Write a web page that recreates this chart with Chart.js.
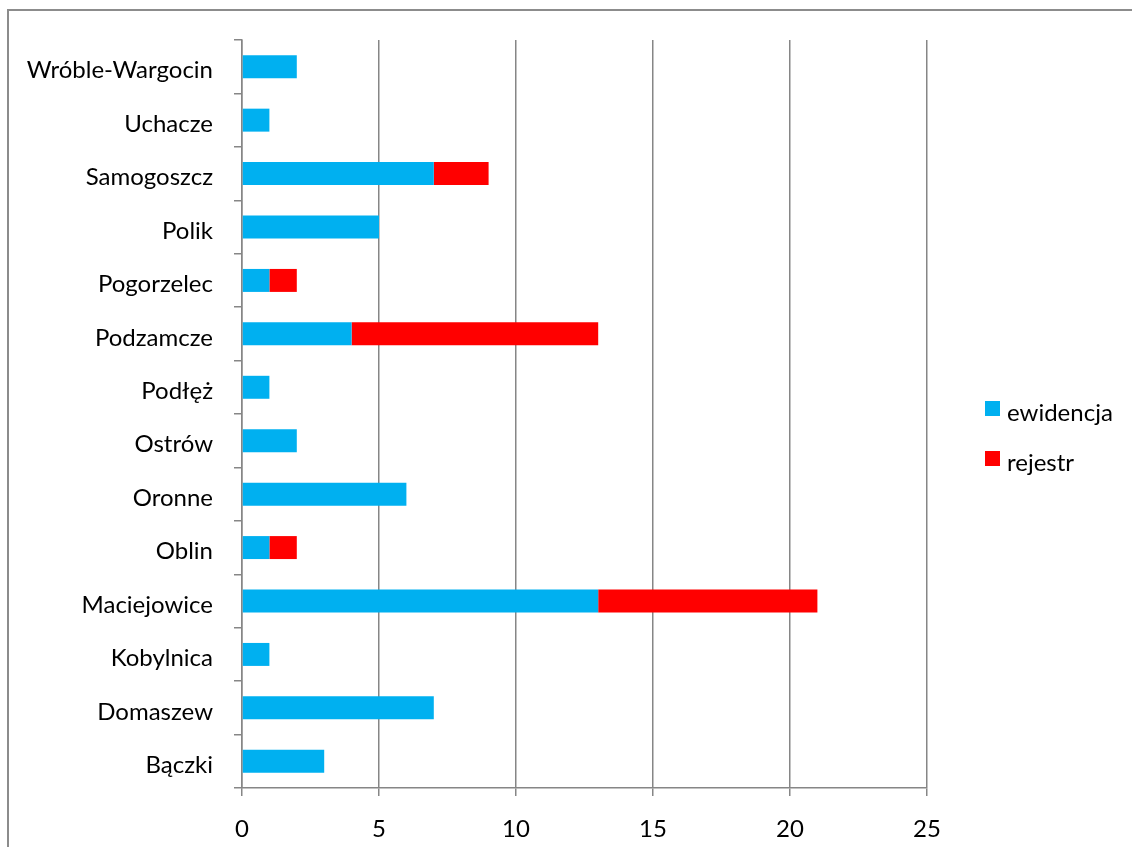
<!DOCTYPE html>
<html>
<head>
<meta charset="utf-8">
<script src="https://cdn.jsdelivr.net/npm/chart.js@4/dist/chart.umd.min.js"></script>
<style>
  html, body { margin: 0; padding: 0; background: #fff; overflow: hidden; }
  #wrap { position: relative; width: 1132px; height: 847px; }
  #frame { position: absolute; left: 7px; top: 9px; width: 1200px; height: 900px;
           border-left: 2px solid #8c8c8c; border-top: 2px solid #8c8c8c; pointer-events: none; }
  #legend { position: absolute; left: 985px; top: 396px; font-family: Lato, "Noto Sans", sans-serif;
            font-size: 24px; color: #000; }
  #legend div { display: flex; align-items: center; height: 30px; margin-bottom: 20px; }
  #legend span.box { width: 15px; height: 15px; margin-right: 7px; margin-top: -6px; }
</style>
</head>
<body>
<div id="wrap">
  <canvas id="c" width="1132" height="847"></canvas>
  <div id="frame"></div>
  <div id="legend"></div>
</div>
<script>
// categories, top to bottom as shown
const villages = ['Wróble-Wargocin', 'Uchacze', 'Samogoszcz', 'Polik', 'Pogorzelec', 'Podzamcze',
  'Podłęż', 'Ostrów', 'Oronne', 'Oblin', 'Maciejowice', 'Kobylnica', 'Domaszew', 'Bączki'];
const ewidencja = [2, 1, 7, 5, 1, 4, 1, 2, 6, 1, 13, 1, 7, 3];
const rejestr   = [0, 0, 2, 0, 1, 9, 0, 0, 0, 1, 8, 0, 0, 0];
const xTicks = [0, 5, 10, 15, 20, 25];

const SERIES_COLORS = { ewidencja: '#00b0f0', rejestr: '#ff0000' };
const GRID = '#868686';
const FONT = { family: 'Lato, "Noto Sans", sans-serif', size: 24 };

const ctx = document.getElementById('c');
new Chart(ctx, {
  type: 'bar',
  data: {
    labels: villages,
    datasets: [
      { label: 'ewidencja', data: ewidencja, backgroundColor: SERIES_COLORS.ewidencja,
        barPercentage: 0.43, categoryPercentage: 1 },
      { label: 'rejestr', data: rejestr, backgroundColor: SERIES_COLORS.rejestr,
        barPercentage: 0.43, categoryPercentage: 1 },
    ],
  },
  options: {
    indexAxis: 'y',
    responsive: false,
    animation: false,
    devicePixelRatio: 1,
    layout: { padding: { top: 40, right: 205, left: 0, bottom: 0 } },
    plugins: { legend: { display: false }, tooltip: { enabled: false } },
    scales: {
      x: {
        stacked: true,
        min: 0, max: 25,
        afterBuildTicks: s => { s.ticks = xTicks.map(v => ({ value: v })); },
        afterFit: s => { s.height = 59; },
        ticks: { color: '#000', font: FONT, padding: 19, maxRotation: 0 },
        grid: { color: GRID, lineWidth: 1.5, tickLength: 8, drawTicks: true },
        border: { display: true, color: GRID, width: 1.5 },
      },
      y: {
        stacked: true,
        afterFit: s => { s.width = 242; },
        ticks: { color: '#000', font: FONT, padding: 21, labelOffset: 4 },
        grid: { offset: true, drawOnChartArea: false, color: GRID, lineWidth: 1.5, tickLength: 8 },
        border: { display: true, color: GRID, width: 1.5 },
      },
    },
  },
});

// legend as html, to the right of the plot
const legendEl = document.getElementById('legend');
for (const name of ['ewidencja', 'rejestr']) {
  const row = document.createElement('div');
  row.innerHTML = `<span class="box" style="background:${SERIES_COLORS[name]}"></span>${name}`;
  legendEl.appendChild(row);
}
</script>
</body>
</html>
